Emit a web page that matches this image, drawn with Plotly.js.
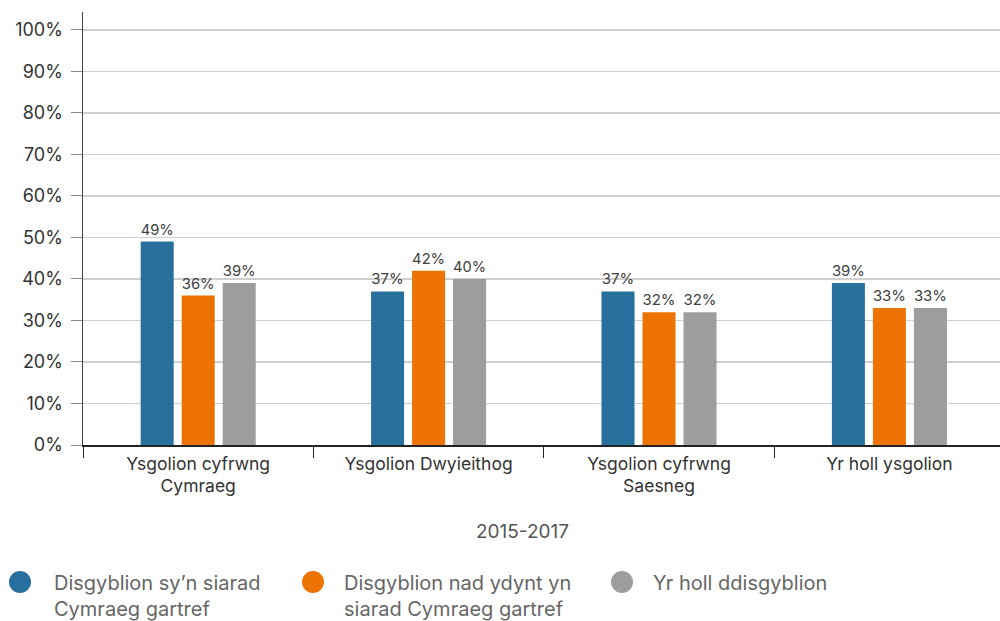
<!DOCTYPE html>
<html><head><meta charset="utf-8">
<script src="https://cdn.plot.ly/plotly-3.0.1.min.js"></script>
<style>body{margin:0;background:#fff}#c{width:1000px;height:621px}</style>
</head><body><div id="c"></div>
<script>
const categories = ["Ysgolion cyfrwng<br>Cymraeg", "Ysgolion Dwyieithog", "Ysgolion cyfrwng<br>Saesneg", "Yr holl ysgolion"];
const seriesNames = ["Disgyblion sy’n siarad<br>Cymraeg gartref", "Disgyblion nad ydynt yn<br>siarad Cymraeg gartref", "Yr holl ddisgyblion"];
const welshHome = [49, 37, 37, 39];
const nonWelshHome = [36, 42, 32, 33];
const allPupils = [39, 40, 32, 33];
const yTicks = [0,10,20,30,40,50,60,70,80,90,100];
const yTickLabels = yTicks.map(v => v + "%");
const xTitle = "2015-2017";
const colors = ["#276f9c", "#ec7304", "#9d9d9c"];
const values = [welshHome, nonWelshHome, allPupils];

const font = "Inter, 'DejaVu Sans', sans-serif";
const traces = values.map((vals, i) => ({
  type: "bar", x: categories, y: vals, name: seriesNames[i],
  marker: {color: colors[i]},
  text: vals.map(v => v + "%"), textposition: "outside", cliponaxis: false,
  textfont: {family: font, size: 15, color: "#404040"}, hoverinfo: "skip"
}));

// plot area in pixels: x 83..1000, y 12..445
const L = 83, W = 917, T = 12, H = 433;
const px = x => (x - L) / W;
const py = y => (T + H - y) / H;
const legendX = [20, 313, 622];
const legendTextX = [52, 342, 651];
const shapes = [], annotations = [];
seriesNames.forEach((n, i) => {
  shapes.push({type: "circle", xref: "paper", yref: "paper",
    x0: px(legendX[i] - 11), x1: px(legendX[i] + 11), y0: py(571), y1: py(593),
    fillcolor: colors[i], line: {width: 0}});
  annotations.push({xref: "paper", yref: "paper", x: px(legendTextX[i]), y: py(569),
    xanchor: "left", yanchor: "top", align: "left", showarrow: false, text: n,
    font: {size: 20, color: "#666"}});
});
annotations.push({xref: "paper", yref: "paper", x: px(522), y: py(531), xanchor: "center", yanchor: "middle",
  showarrow: false, text: xTitle, font: {size: 19, color: "#555"}});

const layout = {
  width: 1000, height: 621,
  margin: {l: L, r: 0, t: T, b: 621 - T - H},
  paper_bgcolor: "#fff", plot_bgcolor: "#fff",
  font: {family: font, color: "#333"},
  showlegend: false,
  barmode: "group", bargap: 0.466, bargroupgap: 0.195,
  xaxis: {
    type: "category", range: [-0.5, 3.48],
    tickson: "boundaries", ticks: "outside", ticklen: 11, tickcolor: "#222",
    showline: true, linecolor: "#222", linewidth: 1.5,
    tickfont: {size: 17.5, color: "#333"}, ticklabelstandoff: 2,
    fixedrange: true, automargin: false
  },
  yaxis: {
    range: [0, 104.3], tickvals: yTicks, ticktext: yTickLabels,
    ticks: "outside", ticklen: 11, tickcolor: "#888",
    showgrid: true, gridcolor: "#cfcfcf", gridwidth: 1.3,
    showline: true, linecolor: "#444", linewidth: 1.5, zeroline: false,
    tickfont: {size: 18, color: "#333"}, ticklabelstandoff: 4,
    fixedrange: true, automargin: false
  },
  shapes: shapes, annotations: annotations
};
Plotly.newPlot("c", traces, layout, {displayModeBar: false, staticPlot: true});
</script></body></html>
